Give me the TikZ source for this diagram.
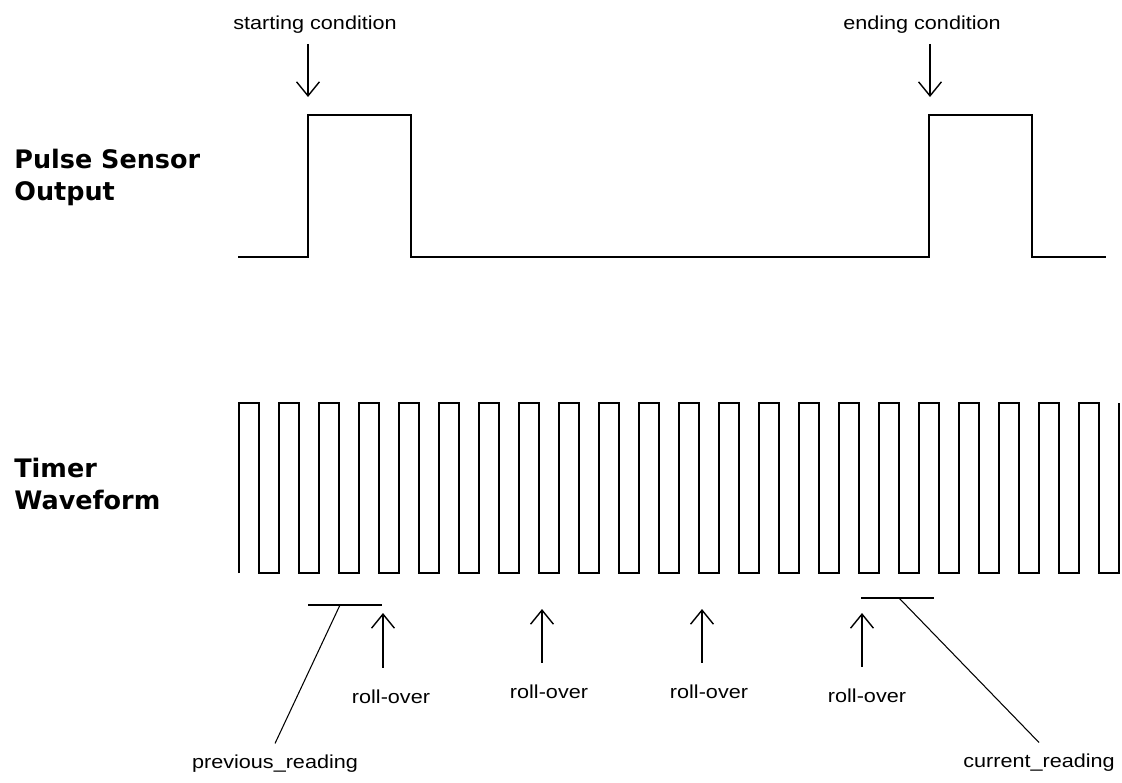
\documentclass[tikz,border=0pt]{standalone}
\usepackage{fontspec}
\usetikzlibrary{arrows.meta}
\newfontfamily\tagfont[FakeStretch=1.15]{Liberation Sans}
\newfontfamily\rowfont{DejaVu Sans}

\begin{document}
\begin{tikzpicture}[x=0.02cm, y=-0.02cm,
  >={Straight Barb[length=8pt,width=13pt]},
  every node/.style={font=\tagfont\fontsize{10.7}{13}\selectfont, inner sep=0pt},
  tag/.style={inner xsep=0pt, inner ysep=6pt},
  rollover/.style={tag, inner ysep=12pt},
  rowtitle/.style={font=\rowfont\bfseries\fontsize{14.5}{18.1}\selectfont, align=left, anchor=base west},
  wave/.style={line width=1.1pt},
  pointer/.style={->, line width=0.8pt},
  bar/.style={line width=0.8pt},
  leader/.style={line width=0.6pt}]
\fill[white] (0,0) rectangle (1122,772);

% row titles (base = last line)
\node[rowtitle] (pulsetitle) at (14,200) {Pulse Sensor\\Output};
\node[rowtitle] (timertitle) at (14,509) {Timer\\Waveform};

% sensor pulses
\draw[wave] (238,257) -- ++(70,0) -- ++(0,-142) -- ++(103,0) -- ++(0,142)
  -- (929,257) -- ++(0,-142) -- ++(103,0) -- ++(0,142) -- (1106,257);

\node[tag, anchor=base] (startlbl) at (315,29) {starting condition};
\node[tag, anchor=base] (endlbl) at (922,29) {ending condition};
\coordinate (startedge) at (308,97);
\coordinate (endedge) at (930,97);
\draw[pointer] (startlbl.south -| startedge) -- (startedge);
\draw[pointer] (endlbl.south -| endedge) -- (endedge);

% timer clock
\draw[wave] (239,573) \foreach \k in {0,...,21} {
  -- ++(0,-170) -- ++(20,0) -- ++(0,170) -- ++(20,0)} -- ++(0,-170);

\foreach \n/\ax/\tip/\lx/\base in {1/383/613/391/703, 2/542/609/549/698,
                                  3/702/609/709/698, 4/862/613/867/702} {
  \coordinate (ro\n tip) at (\ax,\tip);
  \node[rollover, anchor=base] (ro\n) at (\lx,\base) {roll-over};
  \draw[pointer] (ro\n.north -| ro\n tip) -- (ro\n tip);
}

% captured readings
\coordinate (prevleft) at (308,605);
\coordinate (prevright) at (382,605);
\coordinate (prevmid) at (340,605);
\coordinate (currleft) at (861,598);
\coordinate (currright) at (934,598);
\coordinate (currmid) at (899,598);
\node[tag, anchor=base] (prevlbl) at (275,768) {previous\_reading};
\node[tag, anchor=base] (currlbl) at (1039,767) {current\_reading};
\draw[bar] (prevleft) -- (prevright);
\draw[bar] (currleft) -- (currright);
\draw[leader] (prevmid) -- (prevlbl.north);
\draw[leader] (currmid) -- (currlbl.north);
\end{tikzpicture}
\end{document}
